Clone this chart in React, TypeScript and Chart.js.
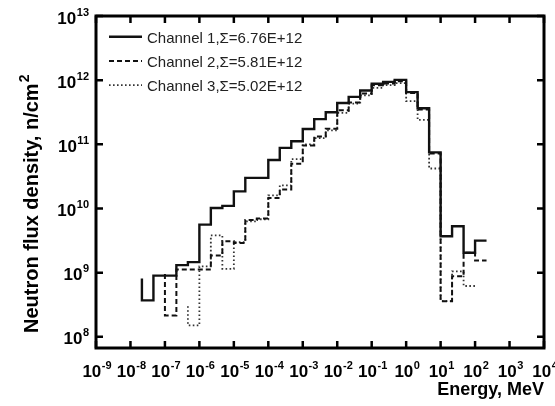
import { useEffect, useRef } from 'react';
import { Chart, registerables } from 'chart.js';

Chart.register(...registerables);

// Energy group boundaries, MeV (1/3-decade structure)
const energyEdges = [
  2.15e-8, 4.64e-8, 1e-7, 2.15e-7, 4.64e-7, 1e-6, 2.15e-6, 4.64e-6, 1e-5, 2.15e-5,
  4.64e-5, 1e-4, 2.15e-4, 4.64e-4, 1e-3, 2.15e-3, 4.64e-3, 1e-2, 2.15e-2, 4.64e-2,
  0.1, 0.215, 0.464, 1, 2.15, 4.64, 10, 21.5, 46.4, 100, 215,
];

// Flux per group, n/cm^2 (null = not drawn)
const channel1 = [
  3.7e8, 9.0e8, 9.0e8, 1.31e9, 1.46e9, 5.6e9, 1.02e10, 1.1e10, 1.85e10, 3.0e10,
  3.0e10, 5.7e10, 8.8e10, 1.12e11, 1.73e11, 2.47e11, 3.17e11, 4.4e11, 5.5e11, 6.9e11,
  8.8e11, 9.4e11, 1.01e12, 6.5e11, 3.65e11, 7.5e10, 3.7e9, 5.3e9, 2.04e9, 3.16e9,
];
const channel2 = [
  null, null, 2.16e8, 1.12e9, 1.12e9, 1.12e9, 1.85e9, 3.1e9, 2.9e9, 6.6e9,
  7.0e9, 1.46e10, 1.97e10, 5.0e10, 9.6e10, 1.33e11, 1.75e11, 3.4e11, 4.5e11, 6.2e11,
  8.3e11, 8.9e11, 9.6e11, 6.3e11, 3.5e11, 7.2e10, 3.6e8, 8.8e8, 2.04e9, 1.55e9,
];
const channel3 = [
  null, null, null, null, 1.51e8, 1.25e9, 3.8e9, 1.15e9, 3.0e9, 6.3e9,
  6.8e9, 1.6e10, 2.3e10, 5.9e10, 1.0e11, 1.25e11, 1.65e11, 3.1e11, 4.3e11, 5.8e11,
  7.6e11, 8.4e11, 9.0e11, 4.7e11, 2.4e11, 4.2e10, 3.6e8, 1.05e9, 6.2e8, null,
];
// level from which each histogram's first vertical edge starts
const startLevels = [8.1e8, 9.5e8, 3.0e8];

const seriesLabels = ['Channel 1,Σ=6.76E+12', 'Channel 2,Σ=5.81E+12', 'Channel 3,Σ=5.02E+12'];
const xTickExponents = [-9, -8, -7, -6, -5, -4, -3, -2, -1, 0, 1, 2, 3, 4];
const yTickExponents = [8, 9, 10, 11, 12, 13];
const xTitle = 'Energy, MeV';
const yTitle = 'Neutron flux density, n/cm';
const yTitleSup = '2';

const FONT = '"Liberation Sans", Arial, Helvetica, sans-serif';

function buildSteps(values: (number | null)[], start: number) {
  const pts: { x: number; y: number }[] = [];
  let last = -1;
  values.forEach((v, i) => {
    if (v == null) return;
    if (pts.length === 0) pts.push({ x: energyEdges[i], y: start });
    pts.push({ x: energyEdges[i], y: v });
    last = i;
  });
  if (last >= 0) pts.push({ x: energyEdges[last + 1], y: values[last] as number });
  return pts;
}

function drawPow(ctx: CanvasRenderingContext2D, exp: number, x: number, y: number, align: 'center' | 'right') {
  ctx.font = `bold 17px ${FONT}`;
  const w1 = ctx.measureText('10').width;
  ctx.font = `bold 11px ${FONT}`;
  const es = String(exp);
  const w2 = ctx.measureText(es).width;
  const total = w1 + w2 + 0.5;
  const x0 = align === 'center' ? x - total / 2 + 1 : x - total;
  ctx.textAlign = 'left';
  ctx.textBaseline = 'alphabetic';
  ctx.font = `bold 17px ${FONT}`;
  ctx.fillText('10', x0, y);
  ctx.font = `bold 11px ${FONT}`;
  ctx.fillText(es, x0 + w1 + 0.5, y - 8);
}

const framePlugin = {
  id: 'frameAndLabels',
  afterDraw(chart: any) {
    const { ctx, chartArea: a, scales } = chart;
    const xs = scales.x;
    const ys = scales.y;
    ctx.save();
    ctx.strokeStyle = '#000';
    ctx.fillStyle = '#000';
    ctx.lineWidth = 2.5;
    ctx.beginPath();
    for (const e of xTickExponents) {
      const px = xs.getPixelForValue(Math.pow(10, e));
      ctx.moveTo(px, a.bottom);
      ctx.lineTo(px, a.bottom - 7);
      ctx.moveTo(px, a.top);
      ctx.lineTo(px, a.top + 7);
    }
    for (const e of yTickExponents) {
      const py = ys.getPixelForValue(Math.pow(10, e));
      ctx.moveTo(a.left, py);
      ctx.lineTo(a.left + 7, py);
      ctx.moveTo(a.right, py);
      ctx.lineTo(a.right - 7, py);
    }
    ctx.stroke();
    ctx.lineWidth = 3;
    ctx.strokeRect(a.left, a.top, a.right - a.left, a.bottom - a.top);

    // tick labels
    for (const e of xTickExponents) {
      const px = xs.getPixelForValue(Math.pow(10, e));
      drawPow(ctx, e, px, a.bottom + 29, 'center');
    }
    for (const e of yTickExponents) {
      const py = ys.getPixelForValue(Math.pow(10, e));
      drawPow(ctx, e, a.left - 7, py + 7.5, 'right');
    }

    // x title
    ctx.font = `bold 18px ${FONT}`;
    ctx.textAlign = 'right';
    ctx.textBaseline = 'alphabetic';
    ctx.fillText(xTitle, a.right, a.bottom + 47);

    // y title
    ctx.save();
    ctx.translate(38, 333);
    ctx.rotate(-Math.PI / 2);
    ctx.font = `bold 20px ${FONT}`;
    ctx.textAlign = 'left';
    ctx.fillText(yTitle, 0, 0);
    const w = ctx.measureText(yTitle).width;
    ctx.font = `bold 14px ${FONT}`;
    ctx.fillText(yTitleSup, w + 1, -9);
    ctx.restore();

    // legend
    chart.data.datasets.forEach((ds: any, i: number) => {
      const y = 36.7 + 24.2 * i;
      ctx.save();
      ctx.strokeStyle = ds.borderColor;
      ctx.lineWidth = ds.borderWidth;
      ctx.setLineDash(ds.borderDash || []);
      ctx.beginPath();
      ctx.moveTo(109, y);
      ctx.lineTo(142, y);
      ctx.stroke();
      ctx.restore();
      ctx.font = `15px ${FONT}`;
      ctx.fillStyle = '#222';
      ctx.textAlign = 'left';
      ctx.textBaseline = 'alphabetic';
      ctx.fillText(ds.label, 147, y + 6.3);
    });
    ctx.restore();
  },
};

export default function App() {
  const ref = useRef<HTMLCanvasElement | null>(null);
  useEffect(() => {
    document.body.style.margin = '0';
    const canvas = ref.current;
    if (!canvas) return;
    const chart = new Chart(canvas, {
      type: 'line',
      data: {
        datasets: [
          {
            label: seriesLabels[0],
            data: buildSteps(channel1, startLevels[0]),
            borderColor: '#111',
            borderWidth: 2.4,
            borderDash: [],
          },
          {
            label: seriesLabels[1],
            data: buildSteps(channel2, startLevels[1]),
            borderColor: '#111',
            borderWidth: 2,
            borderDash: [5, 3],
          },
          {
            label: seriesLabels[2],
            data: buildSteps(channel3, startLevels[2]),
            borderColor: '#333',
            borderWidth: 1.8,
            borderDash: [1.6, 2.4],
          },
        ] as any,
      },
      options: {
        animation: false,
        responsive: false,
        devicePixelRatio: 1,
        layout: { padding: { left: 96, top: 16, right: 11, bottom: 58 } },
        elements: {
          point: { radius: 0, hoverRadius: 0 },
          line: { stepped: 'before', tension: 0, fill: false, borderCapStyle: 'butt', borderJoinStyle: 'miter' },
        },
        scales: {
          x: { type: 'logarithmic', min: 1e-9, max: 1e4, display: false },
          y: { type: 'logarithmic', min: 6.7e7, max: 1e13, display: false },
        },
        plugins: {
          legend: { display: false },
          tooltip: { enabled: false },
        },
      } as any,
      plugins: [framePlugin],
    });
    return () => chart.destroy();
  }, []);
  return (
    <div style={{ width: 555, height: 406 }}>
      <canvas ref={ref} width={555} height={406} style={{ width: 555, height: 406, display: 'block' }} />
    </div>
  );
}
